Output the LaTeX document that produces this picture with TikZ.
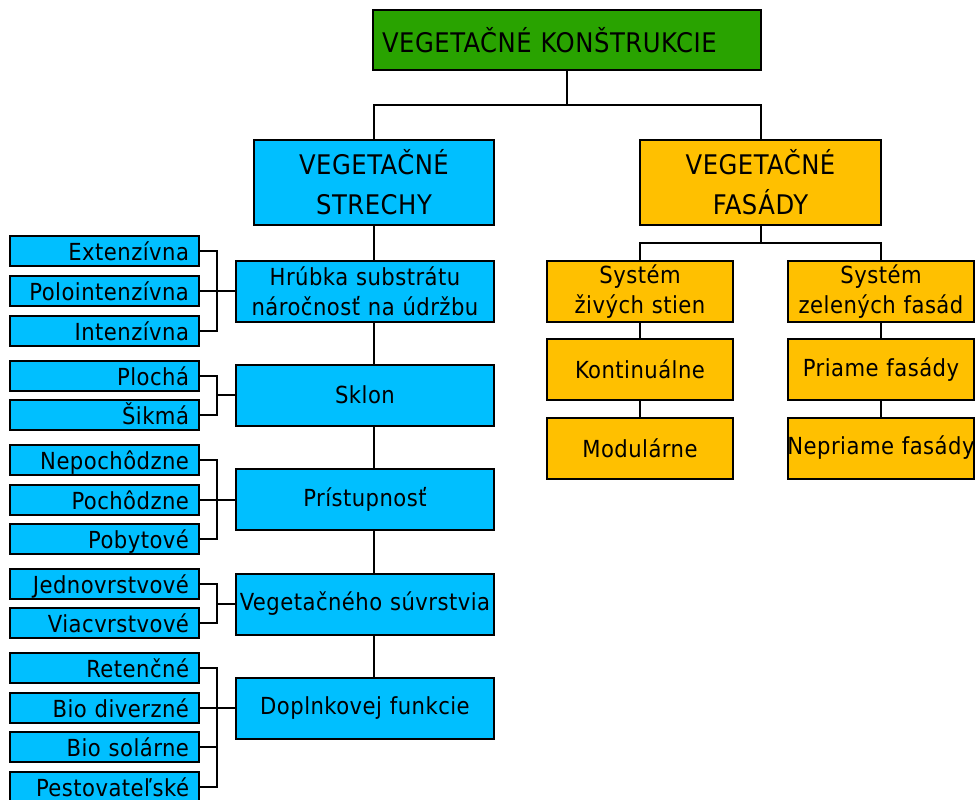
\documentclass[tikz,border=0pt]{standalone}
\usepackage{fontspec}
\setmainfont{DejaVu Sans Condensed}[LetterSpace=2.0]
\definecolor{rootgreen}{RGB}{41,163,0}
\definecolor{roofblue}{RGB}{0,191,255}
\definecolor{wallorange}{RGB}{255,192,0}

\begin{document}
\begin{tikzpicture}[
  x=1pt, y=-1pt,
  line width=2pt,
  box/.style={draw, inner sep=0pt, align=center},
  big box/.style={box, minimum height=85pt, font=\fontsize{27}{40}\selectfont},
  sub box/.style={box, fill=roofblue, text width=258pt, minimum height=61pt,
    font=\fontsize{23.5}{30}\selectfont},
  wall box/.style={box, fill=wallorange, text width=186pt, minimum height=61pt,
    font=\fontsize{23.5}{30}\selectfont},
  leaf/.style={draw, fill=roofblue, inner xsep=10pt, inner ysep=0pt,
    text width=169pt, align=right, minimum height=30pt,
    text height=19pt, text depth=0pt, font=\fontsize{23.5}{30}\selectfont},
]
  \useasboundingbox (0,0) rectangle (975,800);

  % Root and the two main branches
  \node[big box, fill=rootgreen, inner xsep=9pt, text width=370pt, align=left,
    minimum height=60pt] (root) at (567,40) {VEGETAČNÉ KONŠTRUKCIE};
  \node[big box, fill=roofblue, text width=240pt]
    (roofs) at (374,182.5) {VEGETAČNÉ\\STRECHY};
  \node[big box, fill=wallorange, text width=241pt]
    (walls) at (760.5,182.5) {VEGETAČNÉ\\FASÁDY};

  \coordinate (split) at (567,105);
  \draw (root.south) -- (split);
  \draw (roofs.north) |- (split) -| (walls.north);

  % Roof criteria, node names: thick, slope, ...
  \foreach \name/\txt/\y in {
    thick/{Hrúbka substrátu\\náročnosť na údržbu}/291,
    slope/Sklon/395,
    access/Prístupnosť/499.5,
    layers/Vegetačného súvrstvia/604,
    extra/Doplnkovej funkcie/708%
  } {
    \node[sub box] (\name) at (365,\y) {\txt};
  }

  \draw (roofs.south) -- (roofs.south |- thick.north);
  \foreach \a/\b in {thick/slope, slope/access, access/layers, layers/extra}
    \draw (roofs.south |- \a.south) -- (roofs.south |- \b.north);

  % Roof leaves on the left
  \foreach \name/\txt/\y in {
    ext/Extenzívna/251, semi/Polointenzívna/291, int/Intenzívna/331,
    flat/Plochá/376, pitch/Šikmá/415,
    nowalk/Nepochôdzne/460, walk/Pochôdzne/499.5, stay/Pobytové/539,
    single/Jednovrstvové/584, multi/Viacvrstvové/623,
    reten/Retenčné/668, biodiv/Bio diverzné/708, biosol/Bio solárne/747,
    grow/Pestovateľské/787%
  } {
    \node[leaf] (\name) at (104.5,\y) {\txt};
  }

  % Brackets between leaves and criteria
  \coordinate (bus) at (217,0);
  \foreach \parent/\first/\last in {
    thick/ext/int, slope/flat/pitch, access/nowalk/stay,
    layers/single/multi, extra/reten/grow%
  } {
    \draw (\first.east) -| (\last.east -| bus) -- (\last.east);
    \draw (\parent.west) -- (\parent.west -| bus);
  }
  \foreach \name in {semi, walk, biodiv, biosol}
    \draw (\name.east) -- (\name.east -| bus);

  % Wall systems
  \node[wall box] (living) at (640,291.5) {Systém\\živých stien};
  \node[wall box] (greenwall) at (881,291.5) {Systém\\zelených fasád};
  \node[wall box] (cont) at (640,369.5) {Kontinuálne};
  \node[wall box] (modul) at (640,448) {Modulárne};
  \node[wall box] (direct) at (881,369.5) {Priame fasády};
  \node[wall box] (indirect) at (881,448)
    {\makebox[186pt][c]{Nepriame fasády}};

  \coordinate (wsplit) at (760.5,243);
  \draw (walls.south) -- (wsplit);
  \draw (living.north) |- (wsplit) -| (greenwall.north);
  \draw (living.south) -- (cont.north);
  \draw (cont.south) -- (modul.north);
  \draw (greenwall.south) -- (direct.north);
  \draw (direct.south) -- (indirect.north);

\end{tikzpicture}
\end{document}
